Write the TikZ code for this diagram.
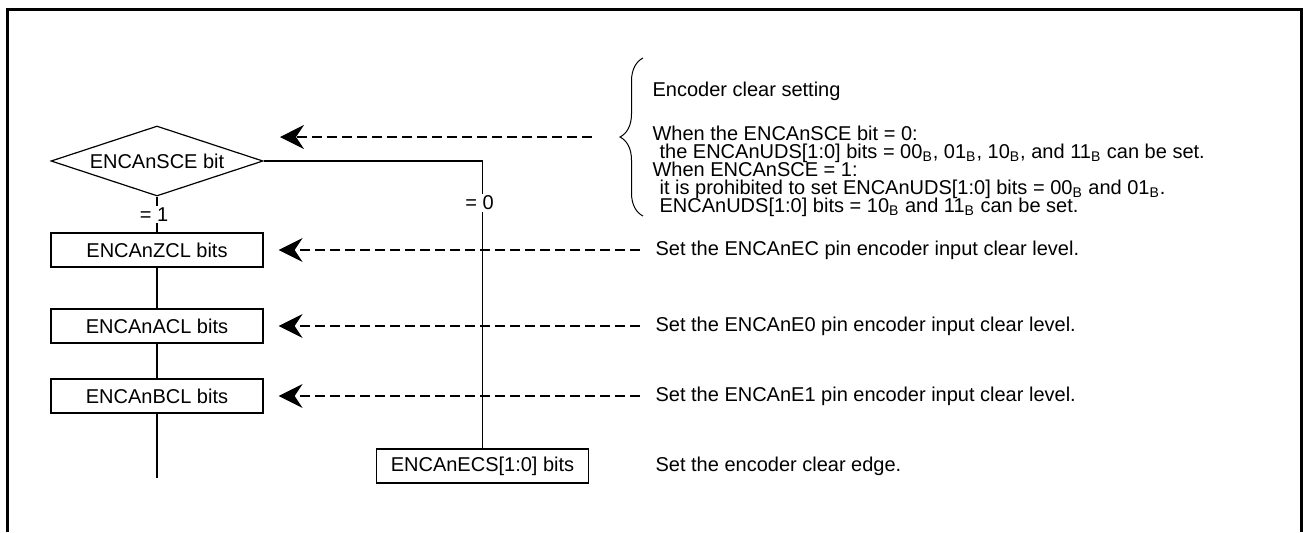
\documentclass[tikz,border=0pt]{standalone}
\usepackage{fontspec}
\setmainfont{Liberation Sans}
\usetikzlibrary{arrows.meta,shapes.geometric,decorations.pathreplacing}
\newcommand{\sB}{\textsubscript{B}}
\setlength{\lineskiplimit}{-20pt}

\begin{document}
\begin{tikzpicture}[x=0.5pt, y=-0.5pt, line width=0.6pt, font=\fontsize{10}{12}\selectfont,
  regbox/.style={draw, minimum width=106pt, minimum height=17pt, inner sep=0pt},
  hint/.style={dash pattern=on 5pt off 2.5pt, -{Stealth[length=12pt, width=12pt, inset=4pt]}, shorten >=7.5pt, shorten <=7.5pt},
  note/.style={anchor=west, inner sep=0pt},
  cond/.style={fill=white, inner sep=1pt},
  tightlines/.style={font=\fontsize{10}{9}\selectfont}]
\useasboundingbox (0,0) rectangle (1303,532);
% frame, open at the bottom
\draw[line width=1.5pt] (7,532) -- (7,9) -- (1301,9) -- (1301,532);

% flow of settings
\node[draw, shape=diamond, aspect=3, minimum width=106pt, minimum height=35pt, inner sep=0pt] (sce) at (157,161) {ENCAnSCE bit};
\node[regbox] (zcl) at (157,250) {ENCAnZCL bits};
\node[regbox] (acl) at (157,326) {ENCAnACL bits};
\node[regbox] (bcl) at (157,396) {ENCAnBCL bits};
\node[regbox] (ecs) at (482.5,466) {ENCAnECS[1:0] bits};
\coordinate (tail) at (157,478);
\draw (sce.south) -- node[cond, xshift=-1.5pt] (eqone) {= 1} (zcl.north);
\draw (zcl) -- (acl);
\draw (acl) -- (bcl);
\draw (bcl) -- (tail);
\draw (sce.east) -| node[cond, pos=0.573, xshift=-1.5pt] (eqzero) {= 0} (ecs.north);

% explanations
\node[note] (tzcl) at (655,250) {Set the ENCAnEC pin encoder input clear level.};
\node[note] (tacl) at (655,326) {Set the ENCAnE0 pin encoder input clear level.};
\node[note] (tbcl) at (655,396) {Set the ENCAnE1 pin encoder input clear level.};
\node[note] (tecs) at (655,466) {Set the encoder clear edge.};
\draw[hint] (tzcl.west) -- (zcl.east);
\draw[hint] (tacl.west) -- (acl.east);
\draw[hint] (tbcl.west) -- (bcl.east);

% brace with the SCE note
\draw[decorate, decoration={brace, amplitude=11.5pt}, line width=0.5pt] (643,216) -- (643,58);
\coordinate (bracetip) at (620,137);
\coordinate (scemark) at (263,137);
\draw[hint, shorten <=14pt, shorten >=8.5pt] (bracetip) -- (scemark);
\node[note, anchor=north west, align=left, tightlines] (tsce) at (652,81) {Encoder clear setting\\[13pt]
When the ENCAnSCE bit = 0:\\
\hspace*{3.5pt}the ENCAnUDS[1:0] bits = 00\sB, 01\sB, 10\sB, and 11\sB{} can be set.\\
When ENCAnSCE = 1:\\
\hspace*{3.5pt}it is prohibited to set ENCAnUDS[1:0] bits = 00\sB{} and 01\sB.\\
\hspace*{3.5pt}ENCAnUDS[1:0] bits = 10\sB{} and 11\sB{} can be set.};
\end{tikzpicture}
\end{document}
